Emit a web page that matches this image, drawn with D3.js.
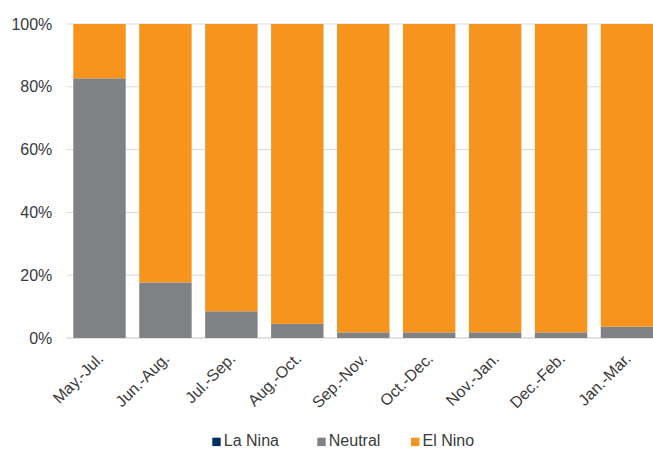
<!DOCTYPE html>
<html><head><meta charset="utf-8">
<script src="https://cdn.jsdelivr.net/npm/d3@7"></script>
<style>html,body{margin:0;padding:0;background:#fff;} svg{display:block;font-family:"Liberation Sans",Arial,sans-serif;}</style>
</head><body><div id="chart"></div>
<script>
const categories = ["May.-Jul.","Jun.-Aug.","Jul.-Sep.","Aug.-Oct.","Sep.-Nov.","Oct.-Dec.","Nov.-Jan.","Dec.-Feb.","Jan.-Mar."];
const laNina  = [0,0,0,0,0,0,0,0,0];
const neutral = [82.7,17.7,8.5,4.5,1.8,1.8,1.8,1.8,3.6];
const elNino  = [17.3,82.3,91.5,95.5,98.2,98.2,98.2,98.2,96.4];
const seriesNames = ["La Nina","Neutral","El Nino"];
const seriesColors = ["#002D62","#808184","#F7941E"];
const yTicks = [0,20,40,60,80,100];

const W = 653, H = 451;
const m = {left:66.7, top:24, bottom:113};
const svg = d3.select("#chart").append("svg").attr("width",W).attr("height",H);

const x = d3.scaleBand().domain(categories).range([m.left, m.left + 9*65.9]).paddingInner(0.205).paddingOuter(0.1);
const y = d3.scaleLinear().domain([0,100]).range([338, 24]);

// gridlines
svg.append("g").selectAll("line").data(yTicks).join("line")
  .attr("x1", m.left).attr("x2", W)
  .attr("y1", d=>y(d)).attr("y2", d=>y(d))
  .attr("stroke", "#D9D9D9").attr("stroke-width", d=>d===0?1.5:1);

// y labels
svg.append("g").selectAll("text").data(yTicks).join("text")
  .attr("x", 52.3).attr("y", d=>y(d)).attr("dy","0.35em")
  .attr("text-anchor","end").attr("font-size",16).attr("fill","#3a3a3a")
  .text(d=>d+"%");

// stacked data
const rows = categories.map((c,i)=>({cat:c, "La Nina":laNina[i], "Neutral":neutral[i], "El Nino":elNino[i]}));
const stacked = d3.stack().keys(seriesNames)(rows);

svg.append("g").selectAll("g").data(stacked).join("g")
  .attr("fill",(d,i)=>seriesColors[i])
  .selectAll("rect").data(d=>d).join("rect")
  .attr("x", d=>x(d.data.cat)).attr("width", x.bandwidth())
  .attr("y", d=>y(d[1])).attr("height", d=>y(d[0])-y(d[1]));

// x labels
svg.append("g").selectAll("text").data(categories).join("text")
  .attr("transform", d=>`translate(${x(d)+x.bandwidth()/2+5},${359.5}) rotate(-45)`)
  .attr("text-anchor","end").attr("font-size",16).attr("fill","#3a3a3a")
  .text(d=>d);

// legend
const legX = [212.3, 317.3, 411];
const leg = svg.append("g").selectAll("g").data(seriesNames).join("g")
  .attr("transform",(d,i)=>`translate(${legX[i]},0)`);
leg.append("rect").attr("x",0).attr("y",437.7).attr("width",8.4).attr("height",8.4)
  .attr("fill",(d,i)=>seriesColors[i]);
leg.append("text").attr("x",11.5).attr("y",446.3).attr("font-size",16).attr("fill","#3a3a3a").text(d=>d);
</script></body></html>
